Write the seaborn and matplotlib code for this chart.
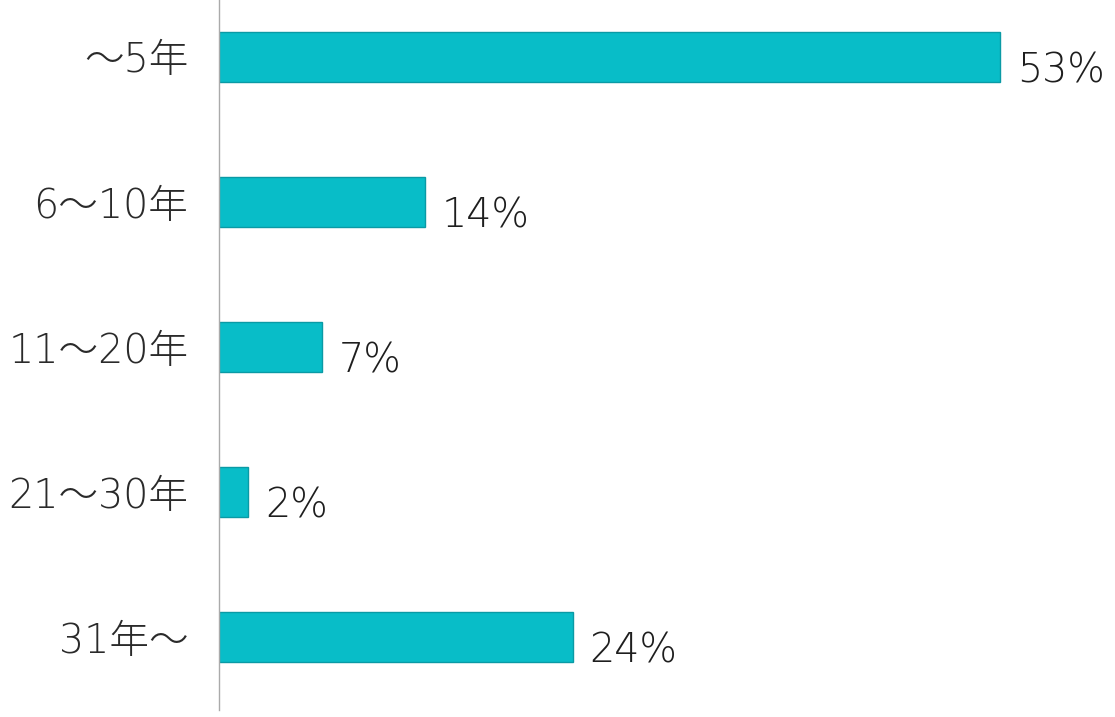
import matplotlib
matplotlib.use("Agg")
import matplotlib.pyplot as plt
import seaborn as sns
import pandas as pd

categories = ["～5年", "6～10年", "11～20年", "21～30年", "31年～"]
values = [53, 14, 7, 2, 24]
value_labels = ["53%", "14%", "7%", "2%", "24%"]

sns.set_theme(style="white")
plt.rcParams['font.family'] = ['DejaVu Sans', 'Noto Sans CJK JP']

df = pd.DataFrame({"cat": categories, "val": values})

fig = plt.figure(figsize=(11.15, 7.17), dpi=100)
ax = fig.add_axes([219/1115, 7/717, (1115-219)/1115, 710/717])

sns.barplot(data=df, y="cat", x="val", orient="h", order=categories,
            color="#08BDC8", saturation=1, width=0.35,
            edgecolor="#0A9AA5", linewidth=1, ax=ax)

ax.set_xlim(0, 896/14.74)
ax.set_ylim(4.503, -0.393)
ax.set_xlabel("")
ax.set_ylabel("")
ax.set_xticks([])
for s in ["top", "right", "bottom"]:
    ax.spines[s].set_visible(False)
ax.spines["left"].set_color("#AAAAAA")
ax.spines["left"].set_linewidth(1)
ax.tick_params(axis="y", length=0, pad=22, labelsize=28.5, labelcolor="#2a2a2a")
for t in ax.get_yticklabels():
    t.set_fontweight("light")

for i, (v, lab) in enumerate(zip(values, value_labels)):
    ax.annotate(lab, xy=(v, i), xytext=(12, -10), textcoords="offset points",
                ha="left", va="center", fontsize=28.5, color="#1e1e1e",
                fontweight="light")

fig.savefig("out.png", dpi=100)
